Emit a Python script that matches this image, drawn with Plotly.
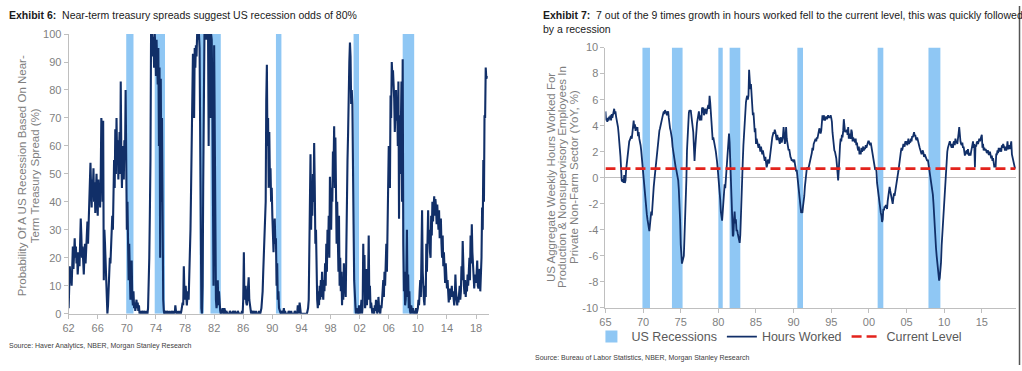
import pandas as pd
import plotly.graph_objects as go

# ---------------- DATA ----------------
# Exhibit 6: probability of US recession (%), monthly from Jan 1962
recession_prob = [
    2, 10, 17, 11, 14, 10, 18, 24, 16, 22, 27, 20,      # 1962
    24, 18, 22, 14, 19, 22, 17, 26, 34, 28, 20, 24,     # 1963
    17, 14, 20, 25, 18, 22, 28, 33, 25, 31, 38, 42,     # 1964
    54, 45, 38, 48, 44, 52, 40, 47, 36, 44, 50, 42,     # 1965
    35, 48, 40, 46, 38, 50, 70, 66, 40, 69, 12, 30,     # 1966
    25, 18, 8, 2, 0, 3, 8, 12, 20, 18, 26, 30,          # 1967
    35, 30, 40, 55, 45, 66, 50, 70, 55, 62, 48, 58,     # 1968
    65, 50, 83, 55, 45, 60, 52, 48, 62, 55, 80, 45,     # 1969
    30, 40, 20, 12, 25, 8, 5, 12, 19, 6, 3, 8,          # 1970
    2, 4, 1, 3, 5, 2, 4, 1, 3, 0, 1, 0,                 # 1971
    0, 1, 0, 0, 1, 0, 0, 0, 1, 0, 0, 2,                 # 1972
    8, 20, 35, 55, 100, 95, 100, 92, 99, 88, 100, 96,   # 1973
    85, 98, 90, 82, 95, 60, 88, 20, 84, 40, 70, 10,     # 1974
    5, 1, 0, 1, 0, 0, 1, 0, 0, 0, 1, 0,                 # 1975
    0, 0, 1, 0, 0, 0, 1, 0, 3, 1, 0, 0,                 # 1976
    0, 1, 0, 0, 1, 0, 1, 2, 4, 3, 17, 8,                # 1977
    5, 10, 4, 3, 6, 8, 5, 12, 20, 30, 45, 62,           # 1978
    85, 93, 78, 70, 95, 88, 96, 92, 100, 98, 100, 100,  # 1979
    95, 60, 25, 2, 0, 10, 45, 90, 100, 100, 100, 98,    # 1980
    100, 98, 100, 60, 100, 95, 70, 100, 98, 80, 40, 10, # 1981
    96, 50, 20, 5, 2, 4, 12, 3, 8, 2, 1, 0,             # 1982
    0, 1, 2, 1, 0, 2, 0, 0, 1, 0, 0, 0,                 # 1983
    0, 0, 1, 0, 0, 0, 0, 1, 0, 0, 1, 0,                 # 1984
    0, 0, 0, 1, 0, 0, 0, 0, 0, 0, 1, 0,                 # 1985
    5, 22, 5, 8, 10, 4, 3, 6, 9, 13, 5, 3,              # 1986
    1, 0, 1, 0, 0, 1, 0, 0, 0, 1, 0, 0,                 # 1987
    0, 0, 1, 0, 0, 1, 2, 5, 8, 15, 20, 28,              # 1988
    35, 40, 76, 89, 60, 70, 45, 65, 48, 52, 40, 45,     # 1989
    35, 28, 22, 30, 34, 25, 27, 10, 18, 5, 8, 2,        # 1990
    1, 0, 0, 1, 0, 0, 0, 2, 0, 1, 0, 0,                 # 1991
    0, 0, 0, 1, 0, 0, 0, 1, 0, 0, 0, 0,                 # 1992
    0, 1, 0, 0, 0, 0, 3, 1, 0, 4, 1, 0,                 # 1993
    0, 0, 0, 0, 0, 0, 0, 0, 0, 0, 1, 2,                 # 1994
    5, 20, 40, 57, 30, 45, 35, 50, 40, 61, 45, 25,      # 1995
    30, 10, 5, 2, 8, 3, 10, 5, 12, 6, 15, 8,            # 1996
    5, 12, 8, 18, 10, 25, 15, 30, 22, 35, 20, 49,       # 1997
    35, 30, 45, 40, 58, 52, 67, 45, 63, 35, 25, 40,     # 1998
    25, 15, 35, 10, 20, 8, 15, 3, 12, 5, 18, 8,         # 1999
    10, 6, 30, 48, 55, 65, 83, 90, 97, 92, 75, 80,      # 2000
    75, 60, 32, 12, 5, 3, 0, 2, 0, 1, 0, 3,             # 2001
    1, 0, 2, 5, 0, 3, 25, 8, 21, 2, 5, 16,              # 2002
    3, 8, 12, 28, 5, 10, 2, 4, 1, 0, 2, 1,              # 2003
    0, 3, 1, 5, 2, 0, 1, 6, 2, 1, 0, 3,                 # 2004
    2, 5, 8, 12, 6, 15, 10, 18, 25, 15, 27, 40,         # 2005
    60, 56, 45, 78, 70, 90, 85, 87, 82, 77, 65, 73,     # 2006
    80, 69, 75, 60, 83, 34, 71, 50, 65, 83, 40, 91,     # 2007
    25, 8, 15, 3, 5, 12, 30, 6, 14, 2, 8, 1,            # 2008
    0, 3, 1, 0, 2, 0, 1, 0, 0, 2, 0, 1,                 # 2009
    2, 5, 3, 8, 12, 6, 20, 37, 15, 8, 5, 3,             # 2010
    10, 6, 25, 15, 33, 37, 25, 30, 22, 20, 35, 28,      # 2011
    40, 33, 38, 42, 35, 41, 38, 32, 39, 35, 30, 37,     # 2012
    27, 33, 34, 25, 20, 28, 17, 22, 14, 11, 18, 12,     # 2013
    9, 12, 7, 4, 9, 5, 9, 6, 10, 6, 8, 5,               # 2014
    3, 6, 14, 8, 5, 3, 6, 4, 7, 10, 5, 8,               # 2015
    17, 12, 26, 14, 10, 7, 12, 6, 11, 8, 14, 10,        # 2016
    14, 20, 12, 28, 18, 32, 22, 18, 12, 9, 14, 11,      # 2017
    11, 15, 19, 10, 9, 14, 16, 8, 12, 20, 38, 30,       # 2018
    55, 40, 71, 70, 88, 84, 85,                         # 2019
]

# Exhibit 7: aggregate weekly hours worked, YoY %, monthly from Jan 1965
hours_yoy = [
    5.1, 4.4, 4.5, 4.3, 4.6, 4.4, 4.7, 4.5, 4.8, 4.4, 4.9, 4.6,        # 1965
    4.8, 5.0, 5.3, 4.9, 5.1, 4.7, 4.5, 4.2, 3.9, 3.4, 3.0, 2.2,        # 1966
    1.6, 0.4, -0.2, -0.3, -0.1, -0.4, 0.2, -0.4, -0.2, 0.6, 1.0, 1.6,  # 1967
    2.1, 2.6, 2.8, 2.9, 3.0, 3.2, 3.0, 3.6, 3.9, 4.4, 3.8, 4.1,        # 1968
    3.6, 3.9, 3.7, 3.9, 3.2, 3.5, 3.0, 2.8, 2.5, 2.1, 1.5, 0.8,        # 1969
    0.2, -0.4, -1.0, -1.6, -2.1, -2.5, -2.8, -3.2, -3.5, -3.9, -4.1, -3.6,  # 1970
    -3.1, -2.6, -2.9, -1.9, -1.4, -0.7, -0.2, 0.3, 1.0, 1.4, 1.7, 2.0,  # 1971
    2.4, 3.0, 3.6, 3.8, 4.1, 4.4, 4.6, 4.7, 4.9, 5.1, 4.9, 5.2,        # 1972
    5.0, 5.1, 4.8, 4.9, 5.1, 4.6, 4.0, 3.8, 3.6, 3.4, 3.0, 2.4,        # 1973
    2.0, 1.8, 1.4, 1.1, 0.8, 0.6, 0.3, 0.0, -0.2, -0.9, -1.9, -3.2,    # 1974
    -5.1, -5.8, -6.6, -6.4, -6.2, -6.0, -4.6, -3.5, -1.7, -0.2, 2.1, 3.5,  # 1975
    4.9, 5.0, 5.2, 5.1, 5.2, 4.8, 4.6, 4.2, 3.5, 2.4, 1.3, 2.2,        # 1976
    3.2, 3.8, 4.2, 4.5, 4.8, 5.1, 4.6, 4.4, 4.8, 4.4, 5.4, 5.0,        # 1977
    5.4, 4.8, 5.0, 5.3, 5.2, 4.9, 5.2, 5.4, 5.6, 5.3, 6.3, 5.8,        # 1978
    5.1, 4.5, 3.6, 2.9, 3.1, 2.7, 2.6, 2.3, 2.0, 1.7, 1.2, 0.7,        # 1979
    0.2, -0.4, -1.0, -1.7, -2.6, -3.2, -3.3, -2.6, -1.5, -1.0, -0.5, -0.8,  # 1980
    -0.2, 0.5, 1.2, 1.8, 2.3, 3.4, 2.7, 1.6, 0.8, -1.5, -3.0, -4.5,    # 1981
    -4.4, -3.2, -2.6, -3.5, -3.2, -4.1, -4.0, -4.3, -4.6, -4.9, -5.0, -4.4,  # 1982
    -2.4, -1.0, 0.5, 1.3, 2.5, 3.6, 4.5, 5.2, 5.8, 6.1, 6.3, 6.0,      # 1983
    6.3, 8.3, 7.4, 6.8, 7.2, 6.0, 5.6, 4.8, 5.0, 4.2, 3.5, 3.8,        # 1984
    2.6, 3.0, 2.8, 2.5, 2.3, 2.6, 2.3, 2.0, 2.4, 2.0, 1.8, 2.1,        # 1985
    1.8, 1.5, 1.3, 1.6, 1.1, 0.8, 1.0, 1.4, 1.2, 1.1, 1.5, 2.0,        # 1986
    2.6, 2.8, 3.1, 3.3, 3.5, 3.4, 3.7, 3.5, 3.2, 2.9, 3.3, 2.9,        # 1987
    3.1, 2.8, 2.6, 3.0, 3.1, 2.7, 2.9, 3.2, 3.9, 3.3, 2.6, 2.9,        # 1988
    3.9, 3.0, 2.6, 2.4, 2.1, 2.2, 1.8, 1.6, 1.5, 1.3, 1.4, 1.2,        # 1989
    1.2, 1.4, 1.0, 0.8, 0.5, 0.6, 0.1, -0.5, -1.0, -1.7, -2.2, -2.7,   # 1990
    -2.7, -2.6, -2.7, -2.2, -1.9, -1.4, -0.7, -0.1, 0.6, 0.7, 0.8, 0.7,  # 1991
    0.8, 1.0, 1.1, 1.3, 1.6, 1.9, 2.3, 2.1, 2.6, 2.8, 2.9, 3.0,        # 1992
    2.8, 3.1, 3.0, 3.3, 3.5, 3.8, 3.6, 3.4, 3.6, 4.0, 4.8, 4.4,        # 1993
    4.8, 4.6, 4.4, 4.6, 4.7, 4.5, 4.7, 4.8, 4.6, 4.7, 4.6, 4.8,        # 1994
    4.6, 4.3, 3.5, 2.8, 2.3, 2.1, 2.0, 1.8, 1.5, 1.0, 0.1, -0.2,       # 1995
    0.6, 2.1, 2.5, 3.0, 2.8, 3.3, 3.1, 3.6, 4.5, 4.0, 3.5, 3.6,        # 1996
    3.5, 3.7, 3.3, 3.9, 3.0, 3.4, 3.2, 3.0, 3.7, 3.5, 2.8, 3.1,        # 1997
    2.8, 3.0, 2.7, 3.0, 2.5, 2.7, 2.3, 2.1, 2.4, 1.8, 2.0, 1.8,        # 1998
    2.3, 2.0, 2.1, 2.4, 2.1, 2.3, 2.2, 2.5, 2.3, 2.5, 2.6, 2.8,        # 1999
    2.8, 2.6, 2.5, 2.7, 2.4, 2.1, 1.9, 1.5, 1.2, 0.8, 0.6, 0.8,        # 2000
    0.5, -0.4, -0.8, -1.2, -1.6, -2.2, -2.5, -2.7, -2.9, -3.4, -3.2, -2.4,  # 2001
    -2.5, -2.2, -2.3, -2.1, -2.3, -2.4, -1.8, -1.2, -0.9, -0.7, -1.0, -1.2,  # 2002
    -1.5, -1.8, -2.0, -1.6, -1.2, -1.4, -1.0, -0.9, -0.6, -0.2, 0.2, 0.5,  # 2003
    1.0, 1.3, 1.8, 2.0, 2.3, 2.1, 2.3, 2.6, 2.5, 2.4, 2.8, 2.6,        # 2004
    2.8, 2.5, 2.7, 3.0, 2.6, 2.8, 2.7, 3.0, 2.8, 3.2, 3.1, 3.4,        # 2005
    3.5, 3.2, 3.3, 3.0, 2.9, 3.1, 2.8, 2.6, 2.5, 2.3, 2.1, 1.8,        # 2006
    1.8, 2.0, 2.1, 1.9, 1.6, 1.8, 1.7, 1.5, 1.4, 1.3, 1.4, 1.1,        # 2007
    0.8, 0.5, 0.2, -0.2, -0.6, -1.0, -1.3, -2.0, -3.2, -4.0, -4.8, -5.4,  # 2008
    -6.0, -6.6, -7.2, -7.6, -7.9, -7.7, -7.2, -6.5, -5.2, -4.4, -3.6, -2.8,  # 2009
    -1.5, -0.4, 0.5, 1.2, 1.8, 2.0, 2.3, 2.5, 2.7, 2.8, 2.6, 2.4,      # 2010
    2.3, 2.6, 2.3, 2.7, 2.8, 2.5, 3.0, 2.7, 2.8, 2.6, 2.9, 3.4,        # 2011
    3.9, 3.1, 2.8, 2.6, 2.5, 2.7, 2.3, 2.4, 2.1, 1.7, 1.9, 2.1,        # 2012
    2.1, 1.8, 2.2, 1.8, 1.7, 1.9, 1.7, 2.0, 2.3, 2.5, 2.8, 2.3,        # 2013
    2.6, 0.8, 2.5, 2.4, 2.7, 2.8, 2.6, 2.9, 3.0, 2.8, 3.0, 3.3,        # 2014
    3.3, 2.3, 2.6, 2.1, 2.3, 2.1, 2.2, 2.1, 1.9, 2.0, 2.1, 1.8,        # 2015
    1.8, 2.0, 1.7, 1.5, 1.7, 1.3, 1.5, 1.2, 0.8, 1.0, 0.8, 1.8,        # 2016
    1.8, 2.1, 1.9, 2.3, 2.0, 2.3, 2.2, 2.0, 2.5, 2.3, 2.6, 2.3,        # 2017
    2.3, 2.1, 2.4, 2.1, 2.3, 2.8, 2.2, 2.3, 2.5, 2.2, 2.5, 2.8,        # 2018
    1.8, 1.6, 1.3, 1.1, 0.9, 0.7,                                      # 2019
]
current_level = 0.7

# NBER recessions
recession_start = ["1969-12-01", "1973-11-01", "1980-01-01", "1981-07-01",
                   "1990-07-01", "2001-03-01", "2007-12-01"]
recession_end = ["1970-11-30", "1975-03-31", "1980-07-31", "1982-11-30",
                 "1991-03-31", "2001-11-30", "2009-06-30"]

prob_ticks = ["62", "66", "70", "74", "78", "82", "86", "90", "94", "98",
              "02", "06", "10", "14", "18"]
hours_ticks = ["65", "70", "75", "80", "85", "90", "95", "00", "05", "10", "15"]
hours_yticks = [-10, -8, -6, -4, -2, 0, 2, 4, 6, 8, 10]
hours_yticktext = ["-10", "-8", "-6", "-4", "-2", "0", "2", "4", "6", "8", "10"]

# ---------------- BUILD ----------------
NAVY = "#112f68"
BLUE = "#8fc7f4"
RED = "#e3231c"
GREY = "#7f7f7f"
AXIS = "#bfbfbf"
FONT = "Liberation Sans, Arial, sans-serif"

prob_dates = pd.date_range("1962-01-01", periods=len(recession_prob), freq="MS")
hours_dates = pd.date_range("1965-01-01", periods=len(hours_yoy), freq="MS")

rs = pd.to_datetime(recession_start)
re_ = pd.to_datetime(recession_end) + pd.Timedelta(days=1)
rec_mid = rs + (re_ - rs) / 2
rec_width = [(e - s).total_seconds() * 1000 for s, e in zip(rs, re_)]

fig = go.Figure()

# Left chart
fig.add_trace(go.Bar(x=rec_mid, y=[100] * len(rs), base=0, width=rec_width,
                     marker=dict(color=BLUE, line=dict(width=0)),
                     xaxis="x", yaxis="y", showlegend=False, hoverinfo="skip"))
fig.add_trace(go.Scatter(x=prob_dates, y=recession_prob, mode="lines",
                         line=dict(color=NAVY, width=2.1),
                         xaxis="x", yaxis="y", showlegend=False))

# Right chart
fig.add_trace(go.Bar(x=rec_mid, y=[20] * len(rs), base=-10, width=rec_width,
                     marker=dict(color=BLUE, line=dict(width=0)),
                     xaxis="x2", yaxis="y2", name="US Recessions"))
fig.add_trace(go.Scatter(x=hours_dates, y=hours_yoy, mode="lines",
                         line=dict(color=NAVY, width=1.8),
                         xaxis="x2", yaxis="y2", name="Hours Worked"))
fig.add_trace(go.Scatter(x=[hours_dates[0], hours_dates[-1] + pd.Timedelta(days=15)],
                         y=[current_level, current_level], mode="lines",
                         line=dict(color=RED, width=2.6, dash="10px,5px"),
                         xaxis="x2", yaxis="y2", name="Current Level"))

W, H = 1022, 371
def px(x):
    return x / W
def py(y):
    return 1 - y / H

axis_common = dict(showline=True, linecolor=AXIS, linewidth=1, ticks="outside",
                   tickcolor=AXIS, ticklen=4, showgrid=False,
                   tickfont=dict(family=FONT, size=11, color=GREY))

fig.update_layout(
    width=W, height=H, margin=dict(l=0, r=0, t=0, b=0),
    paper_bgcolor="white", plot_bgcolor="white",
    barmode="overlay",
    font=dict(family=FONT),
    xaxis=dict(domain=[px(63), px(486)], anchor="y", type="date",
               range=["1962-01-01", "2019-10-20"],
               tickvals=pd.date_range("1962-01-01", periods=len(prob_ticks), freq="48MS"),
               ticktext=prob_ticks, **axis_common),
    yaxis=dict(domain=[py(318), py(29)], anchor="x", range=[0, 100], dtick=10,
               zeroline=False, **axis_common),
    xaxis2=dict(domain=[px(603), px(1016)], anchor="y2", type="date",
                range=["1965-01-01", "2019-07-20"],
                tickvals=pd.date_range("1965-01-01", periods=len(hours_ticks), freq="60MS"),
                ticktext=hours_ticks, **axis_common),
    yaxis2=dict(domain=[py(312), py(43)], anchor="x2", range=[-10, 10],
                tickvals=hours_yticks, ticktext=hours_yticktext,
                zeroline=True, zerolinecolor=AXIS, zerolinewidth=1, **axis_common),
    legend=dict(orientation="h", x=px(778), xanchor="center", y=py(342), yanchor="middle",
                font=dict(family=FONT, size=12.5, color="#595959"),
                bgcolor="rgba(0,0,0,0)", traceorder="normal", itemwidth=30),
)

ann = []
def add_ann(**kw):
    base = dict(xref="paper", yref="paper", showarrow=False)
    base.update(kw)
    ann.append(base)

add_ann(text="<b>Exhibit 6:</b>  Near-term treasury spreads suggest US recession odds of 80%",
        x=px(1), y=py(1), xanchor="left", yanchor="top",
        font=dict(family=FONT, size=10.5, color="#1a1a1a"), align="left")
add_ann(text="<b>Exhibit 7:</b>  7 out of the 9 times growth in hours worked fell to the current level, this was quickly followed<br>by a recession",
        x=px(538), y=py(1), xanchor="left", yanchor="top",
        font=dict(family=FONT, size=10.5, color="#1a1a1a"), align="left")
# left y title (two lines)
for txt, xc in [("Probability Of A US Recession Based On Near-", 16),
                ("Term Treasury Spread (%)", 30)]:
    add_ann(text=txt, x=px(xc), y=py(175), xanchor="center", yanchor="middle",
            textangle=-90, font=dict(family=FONT, size=11.5, color=GREY))
# right y title (three lines)
for txt, xc in [("US Aggregate Weekly Hours Worked For", 548),
                ("Production & Nonsupervisory Employees In", 560),
                ("Private Non-Farm Sector (YoY, %)", 572)]:
    add_ann(text=txt, x=px(xc), y=py(177), xanchor="center", yanchor="middle",
            textangle=-90, font=dict(family=FONT, size=11.5, color=GREY))
add_ann(text="Source: Haver Analytics, NBER, Morgan Stanley Research",
        x=px(1), y=py(351), xanchor="left", yanchor="middle",
        font=dict(family=FONT, size=7, color="#404040"))
add_ann(text="Source: Bureau of Labor Statistics, NBER, Morgan Stanley Research",
        x=px(530), y=py(364), xanchor="left", yanchor="middle",
        font=dict(family=FONT, size=7, color="#404040"))
fig.update_layout(annotations=ann)

fig.add_shape(type="line", xref="paper", yref="paper", x0=px(1019.5), x1=px(1019.5),
              y0=0, y1=1, line=dict(color="#555555", width=1.5))

fig.write_html("out.html", config={"displayModeBar": False},
               post_script="document.body.style.margin='0';")
